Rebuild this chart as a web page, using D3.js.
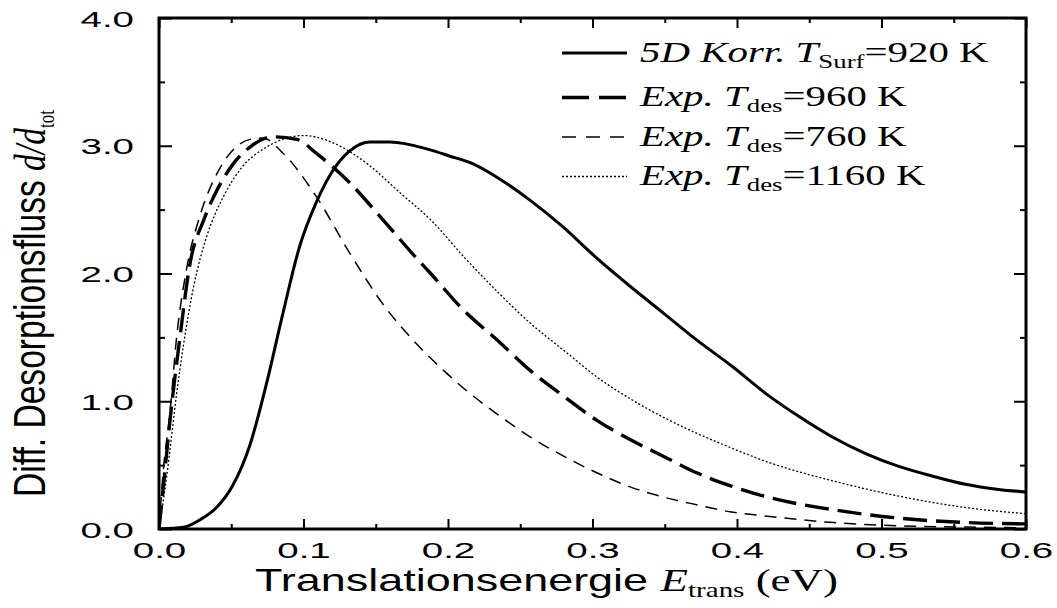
<!DOCTYPE html>
<html>
<head>
<meta charset="utf-8">
<script src="https://cdn.jsdelivr.net/npm/d3@7"></script>
<style>
  html, body { margin: 0; padding: 0; background: #fff; }
  svg { display: block; }
</style>
</head>
<body>
<svg id="chart" width="1057" height="608"></svg>
<script>
// Translational energy distributions of desorbing molecules (flux normalised to total)

// 5D correlated calculation, T_Surf = 920 K
const eKorr920 = [0, 0.017, 0.028, 0.040, 0.051, 0.063, 0.074, 0.086, 0.097, 0.109, 0.120, 0.132, 0.146, 0.160,
  0.187, 0.201, 0.217, 0.233, 0.256, 0.279, 0.302, 0.326, 0.348, 0.372, 0.397, 0.420, 0.443, 0.466, 0.489,
  0.512, 0.535, 0.558, 0.581, 0.600];
const fKorr920 = [0, 0.013, 0.07, 0.17, 0.34, 0.66, 1.12, 1.70, 2.20, 2.56, 2.80, 2.96, 3.03, 3.03,
  2.97, 2.92, 2.86, 2.76, 2.58, 2.37, 2.13, 1.90, 1.70, 1.48, 1.27, 1.06, 0.88, 0.72, 0.59,
  0.49, 0.415, 0.35, 0.31, 0.29];

// Experiment, T_des = 960 K
const eExp960 = [0, 0.003, 0.0076, 0.0146, 0.0215, 0.031, 0.040, 0.0515, 0.063, 0.079, 0.0954, 0.109, 0.132,
  0.155, 0.179, 0.188, 0.211, 0.234, 0.257, 0.280, 0.303, 0.326, 0.349, 0.372, 0.395, 0.421, 0.467, 0.513,
  0.560, 0.600];
const fExp960 = [0, 0.33, 0.85, 1.51, 2.08, 2.42, 2.65, 2.86, 2.99, 3.07, 3.05, 2.94, 2.71,
  2.42, 2.11, 2.00, 1.71, 1.48, 1.24, 1.04, 0.85, 0.70, 0.57, 0.44, 0.34, 0.25, 0.15, 0.084,
  0.05, 0.04];

// Experiment, T_des = 760 K
const eExp760 = [0, 0.003, 0.0076, 0.012, 0.019, 0.028, 0.040, 0.0515, 0.063, 0.072, 0.086, 0.109, 0.132,
  0.155, 0.179, 0.199, 0.211, 0.234, 0.257, 0.280, 0.303, 0.326, 0.349, 0.372, 0.395, 0.421, 0.467, 0.513,
  0.560, 0.600];
const fExp760 = [0, 0.46, 0.91, 1.48, 2.03, 2.44, 2.78, 2.97, 3.05, 3.06, 2.94, 2.60, 2.16,
  1.76, 1.44, 1.22, 1.10, 0.90, 0.72, 0.57, 0.44, 0.33, 0.25, 0.19, 0.135, 0.10, 0.05, 0.025,
  0.015, 0.01];

// Experiment, T_des = 1160 K
const eExp1160 = [0, 0.0053, 0.012, 0.0168, 0.024, 0.033, 0.0445, 0.058, 0.0745, 0.100, 0.123, 0.144, 0.167,
  0.188, 0.211, 0.234, 0.257, 0.280, 0.303, 0.326, 0.349, 0.373, 0.396, 0.421, 0.467, 0.513, 0.560, 0.600];
const fExp1160 = [0, 0.41, 1.04, 1.43, 1.90, 2.29, 2.60, 2.84, 2.99, 3.08, 3.01, 2.86, 2.63,
  2.42, 2.13, 1.86, 1.61, 1.40, 1.19, 1.02, 0.875, 0.745, 0.635, 0.525, 0.375, 0.255, 0.165, 0.12];

// Axis ticks
const xTicks = [0, 0.1, 0.2, 0.3, 0.4, 0.5, 0.6];
const xMinorTicks = [0.05, 0.15, 0.25, 0.35, 0.45, 0.55];
const yTicks = [0, 1, 2, 3, 4];
const yMinorTicks = [0.5, 1.5, 2.5, 3.5];
const xTickLabels = ["0.0", "0.1", "0.2", "0.3", "0.4", "0.5", "0.6"];
const yTickLabels = ["0.0", "1.0", "2.0", "3.0", "4.0"];

// Legend entries
const legendLabels = [
  { lead: "5D Korr. ", sub: "Surf", rest: "=920 K" },
  { lead: "Exp. ", sub: "des", rest: "=960 K" },
  { lead: "Exp. ", sub: "des", rest: "=760 K" },
  { lead: "Exp. ", sub: "des", rest: "=1160 K" }
];

const SANS = "'Liberation Sans', Arial, Helvetica, sans-serif";
const SERIF = "'Liberation Serif', 'Times New Roman', serif";

const svg = d3.select("#chart");
const plot = { left: 159, right: 1026, top: 18, bottom: 529 };

const x = d3.scaleLinear().domain([0, 0.6]).range([plot.left, plot.right]);
const y = d3.scaleLinear().domain([0, 4]).range([plot.bottom, plot.top]);

const series = [
  { e: eKorr920, f: fKorr920, width: 3.0, dash: null },
  { e: eExp960, f: fExp960, width: 3.4, dash: "24,9" },
  { e: eExp760, f: fExp760, width: 1.5, dash: "12,8" },
  { e: eExp1160, f: fExp1160, width: 1.3, dash: "2,2" }
];

// Curves (clipped to the frame)
svg.append("clipPath").attr("id", "plotClip")
  .append("rect")
  .attr("x", plot.left).attr("y", plot.top)
  .attr("width", plot.right - plot.left).attr("height", plot.bottom - plot.top);

const line = d3.line().x(d => x(d[0])).y(d => y(d[1])).curve(d3.curveMonotoneX);

const curves = svg.append("g").attr("clip-path", "url(#plotClip)");
series.forEach(s => {
  const pts = s.e.map((e, i) => [e, s.f[i]]);
  curves.append("path")
    .attr("d", line(pts))
    .attr("fill", "none")
    .attr("stroke", "#000")
    .attr("stroke-width", s.width)
    .attr("stroke-dasharray", s.dash)
    .attr("stroke-linejoin", "round");
});

// Axes: inward ticks on all four sides
function styleAxis(g) {
  g.select(".domain").remove();
  g.selectAll(".tick line").attr("stroke", "#000").attr("stroke-width", 2);
}

svg.append("g").attr("transform", `translate(0,${plot.bottom})`)
  .call(d3.axisBottom(x).tickValues(xTicks).tickSizeInner(-10).tickSizeOuter(0)
    .tickFormat((d, i) => xTickLabels[i]))
  .call(styleAxis)
  .call(g => g.selectAll(".tick text")
    .attr("x", null).attr("y", null).attr("dy", null)
    .attr("fill", "#000")
    .attr("font-family", SANS).attr("font-size", 22)
    .attr("text-anchor", "middle")
    .attr("transform", "translate(0,29) scale(1.75,1)"));

svg.append("g").attr("transform", `translate(0,${plot.bottom})`)
  .call(d3.axisBottom(x).tickValues(xMinorTicks).tickSizeInner(-5).tickSizeOuter(0).tickFormat(""))
  .call(styleAxis);

svg.append("g").attr("transform", `translate(0,${plot.top})`)
  .call(d3.axisTop(x).tickValues(xTicks).tickSizeInner(-10).tickSizeOuter(0).tickFormat(""))
  .call(styleAxis);

svg.append("g").attr("transform", `translate(0,${plot.top})`)
  .call(d3.axisTop(x).tickValues(xMinorTicks).tickSizeInner(-5).tickSizeOuter(0).tickFormat(""))
  .call(styleAxis);

svg.append("g").attr("transform", `translate(${plot.left},0)`)
  .call(d3.axisLeft(y).tickValues(yTicks).tickSizeInner(-13).tickSizeOuter(0)
    .tickFormat((d, i) => yTickLabels[i]))
  .call(styleAxis)
  .call(g => g.selectAll(".tick text")
    .attr("x", null).attr("y", null).attr("dy", null)
    .attr("fill", "#000")
    .attr("font-family", SANS).attr("font-size", 22)
    .attr("text-anchor", "end")
    .attr("transform", "translate(-25,8) scale(1.75,1)"));

svg.append("g").attr("transform", `translate(${plot.left},0)`)
  .call(d3.axisLeft(y).tickValues(yMinorTicks).tickSizeInner(-6).tickSizeOuter(0).tickFormat(""))
  .call(styleAxis);

svg.append("g").attr("transform", `translate(${plot.right},0)`)
  .call(d3.axisRight(y).tickValues(yTicks).tickSizeInner(-12).tickSizeOuter(0).tickFormat(""))
  .call(styleAxis);

svg.append("g").attr("transform", `translate(${plot.right},0)`)
  .call(d3.axisRight(y).tickValues(yMinorTicks).tickSizeInner(-6).tickSizeOuter(0).tickFormat(""))
  .call(styleAxis);

// Frame
svg.append("rect")
  .attr("x", plot.left).attr("y", plot.top)
  .attr("width", plot.right - plot.left).attr("height", plot.bottom - plot.top)
  .attr("fill", "none").attr("stroke", "#000").attr("stroke-width", 3);

// X axis title
const xt = svg.append("text")
  .attr("transform", "translate(255,591) scale(1.45,1)")
  .attr("fill", "#000");
xt.append("tspan").attr("font-family", SANS).attr("font-size", 31).text("Translationsenergie ");
xt.append("tspan").attr("font-family", SERIF).attr("font-style", "italic").attr("font-size", 31).text("E");
xt.append("tspan").attr("font-family", SERIF).attr("font-size", 20).attr("dy", 6).text("trans");
xt.append("tspan").attr("font-family", SERIF).attr("font-size", 31).attr("dy", -6).text(" (eV)");

// Y axis title (rotated)
const yt = svg.append("text")
  .attr("transform", "translate(45,497) rotate(-90) scale(1,1.3)")
  .attr("fill", "#000");
yt.append("tspan").attr("font-family", SANS).attr("font-size", 33.6).text("Diff. Desorptionsfluss ");
yt.append("tspan").attr("font-family", SERIF).attr("font-style", "italic").attr("font-size", 33.6).text("d/d");
yt.append("tspan").attr("font-family", SERIF).attr("font-size", 17).attr("dy", 7).text("tot");

// Legend
const legendRows = [53, 97.5, 137, 176.5];
const legend = svg.append("g");
legendLabels.forEach((lab, i) => {
  const s = series[i];
  const ly = legendRows[i];
  legend.append("line")
    .attr("x1", 562).attr("x2", 627).attr("y1", ly).attr("y2", ly)
    .attr("stroke", "#000").attr("stroke-width", s.width)
    .attr("stroke-dasharray", i === 1 ? "27,10" : (i === 2 ? "14,10" : s.dash));
  const t = legend.append("text")
    .attr("transform", `translate(640,${ly + 8.5}) scale(1.41,1)`)
    .attr("fill", "#000").attr("font-family", SERIF).attr("font-size", 29);
  t.append("tspan").attr("font-style", "italic").text(lab.lead + "T");
  t.append("tspan").attr("font-size", 19).attr("dy", 6).text(lab.sub);
  t.append("tspan").attr("dy", -6).text(lab.rest);
});
</script>
</body>
</html>
